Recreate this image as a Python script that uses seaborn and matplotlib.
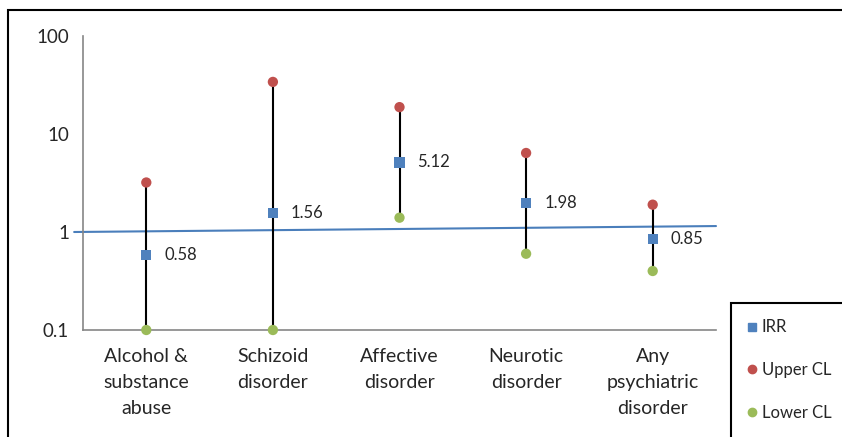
import matplotlib
matplotlib.use("Agg")
import matplotlib.pyplot as plt
import matplotlib.patches as mpatches
import seaborn as sns
import pandas as pd

categories = ["Alcohol &\nsubstance\nabuse", "Schizoid\ndisorder", "Affective\ndisorder",
              "Neurotic\ndisorder", "Any\npsychiatric\ndisorder"]
irr = [0.58, 1.56, 5.12, 1.98, 0.85]
upper_cl = [3.2, 34.0, 18.8, 6.4, 1.9]
lower_cl = [0.1, 0.1, 1.4, 0.6, 0.4]
# slightly sloped reference line (x in category units, y values)
ref_x = [-0.57, 4.5]
ref_y = [1.0, 1.15]

sns.set_theme(style="white")
plt.rcParams['font.family'] = ['Lato', 'DejaVu Sans']

W, H = 842, 437
fig = plt.figure(figsize=(W / 100, H / 100), dpi=100)
ax = fig.add_axes([83 / W, (H - 330) / H, (716 - 83) / W, (330 - 36) / H])

x = list(range(len(categories)))
df = pd.DataFrame({
    "x": x * 3,
    "value": irr + upper_cl + lower_cl,
    "series": ["IRR"] * 5 + ["Upper CL"] * 5 + ["Lower CL"] * 5,
})
colors = {"IRR": "#4F81BD", "Upper CL": "#C0504D", "Lower CL": "#9BBB59"}
markers = {"IRR": "s", "Upper CL": "o", "Lower CL": "o"}

ax.vlines(x, lower_cl, upper_cl, color="black", lw=1.5, zorder=2)
ax.plot(ref_x, ref_y, color="#4A7EBB", lw=1.5, zorder=1, clip_on=False)
sns.scatterplot(data=df, x="x", y="value", hue="series", style="series",
                palette=colors, markers=markers, s=55, edgecolor="none",
                ax=ax, zorder=3, clip_on=False, legend=False)

for xi, v in zip(x, irr):
    ax.annotate(f"{v:.2f}", (xi, v), xytext=(13, 0), textcoords="offset points",
                va="center", ha="left", fontsize=12)

ax.set_yscale("log")
ax.set_ylim(0.1, 100)
ax.set_yticks([0.1, 1, 10, 100])
ax.set_yticklabels(["0.1", "1", "10", "100"])
ax.minorticks_off()
ax.set_xlim(-0.5, 4.5)
ax.set_xticks(x)
ax.set_xticklabels(categories, fontsize=14, linespacing=1.65)
ax.set_xticks([i - 0.5 for i in range(6)], minor=True)
ax.tick_params(axis="x", which="major", length=0, pad=13)
ax.tick_params(axis="x", which="minor", length=6, width=1, color="#868686", direction="out")
ax.tick_params(axis="y", which="major", length=6, width=1, color="#868686",
               direction="out", labelsize=13.5, pad=4)
ax.tick_params(axis="y", which="minor", length=0)
ax.set_xlabel("")
ax.set_ylabel("")
for s in ["top", "right"]:
    ax.spines[s].set_visible(False)
for s in ["left", "bottom"]:
    ax.spines[s].set_color("#868686")
    ax.spines[s].set_linewidth(1.2)

# outer chart frame
fig.patches.append(mpatches.Rectangle((8 / W, -0.05), 1.0, (H - 10) / H + 0.05,
                                      transform=fig.transFigure, fill=False,
                                      edgecolor="black", lw=1.5))
# legend box
fig.patches.append(mpatches.Rectangle((731 / W, -0.05), 0.3, (H - 303) / H + 0.05,
                                      transform=fig.transFigure, fill=False,
                                      edgecolor="black", lw=1.5, zorder=5))
handles = [plt.Line2D([], [], ls="", marker=markers[k], color=colors[k], markersize=6)
           for k in colors]
fig.legend(handles, list(colors), loc="upper left",
           bbox_to_anchor=(735 / W, (H - 311) / H), frameon=False,
           fontsize=12, labelspacing=1.6, handletextpad=0.1, handlelength=1.0,
           borderpad=0)

fig.savefig("out.png", dpi=100)
